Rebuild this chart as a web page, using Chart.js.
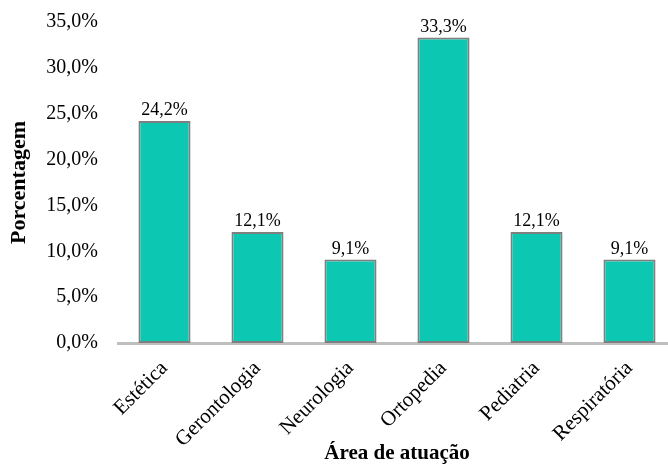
<!DOCTYPE html>
<html>
<head>
<meta charset="utf-8">
<script src="https://cdn.jsdelivr.net/npm/chart.js@4/dist/chart.umd.min.js"></script>
<style>
    html, body { margin: 0; padding: 0; background: #fff; overflow: hidden; }
    #wrap { width: 680px; height: 467px; }
</style>
</head>
<body>
<div id="wrap"><canvas id="areaChart" width="680" height="467"></canvas></div>
<script>
const categories = ['Estética', 'Gerontologia', 'Neurologia', 'Ortopedia', 'Pediatria', 'Respiratória'];
const percentages = [24.2, 12.1, 9.1, 33.3, 12.1, 9.1];
const yTicks = [0, 5, 10, 15, 20, 25, 30, 35];

const serif = "'Liberation Serif', 'Times New Roman', serif";

function fmtPct(v) {
    return v.toFixed(1).replace('.', ',') + '%';
}

// etiquetas em cima das barras
const barLabels = {
    id: 'barLabels',
    afterDatasetsDraw(chart) {
        const ctx = chart.ctx;
        const meta = chart.getDatasetMeta(0);
        ctx.save();
        ctx.font = '18px ' + serif;
        ctx.fillStyle = '#000';
        ctx.textAlign = 'center';
        ctx.textBaseline = 'alphabetic';
        meta.data.forEach((bar, i) => {
            ctx.fillText(fmtPct(percentages[i]), bar.x, bar.y - 6);
        });
        ctx.restore();
    }
};

const ctx = document.getElementById('areaChart').getContext('2d');

new Chart(ctx, {
    type: 'bar',
    data: {
        labels: categories,
        datasets: [{
            label: 'Porcentagem',
            data: percentages,
            backgroundColor: '#0cc7b1',
            borderColor: '#7f7f7f',
            borderWidth: 2,
            borderSkipped: false,
            categoryPercentage: 1,
            barPercentage: 0.56
        }]
    },
    options: {
        responsive: false,
        animation: false,
        layout: {
            padding: { top: 22, right: 4, left: 0, bottom: 0 }
        },
        plugins: {
            legend: { display: false },
            tooltip: { enabled: false },
            title: { display: false }
        },
        scales: {
            x: {
                grid: { display: false, drawTicks: false },
                border: { display: true, color: '#bfbfbf', width: 3 },
                ticks: {
                    color: '#000',
                    font: { family: serif, size: 21 },
                    minRotation: 45,
                    maxRotation: 45,
                    padding: 13
                },
                title: {
                    display: true,
                    text: 'Área de atuação',
                    color: '#000',
                    font: { family: serif, size: 21, weight: 'bold' },
                    padding: { top: 0, bottom: 1 }
                },
                afterFit: (scale) => { scale.height = 124; }
            },
            y: {
                min: 0,
                max: 35,
                grid: { display: false, drawTicks: false },
                border: { display: false },
                afterBuildTicks: (scale) => {
                    scale.ticks = yTicks.map(v => ({ value: v }));
                },
                ticks: {
                    color: '#000',
                    font: { family: serif, size: 20 },
                    padding: 20,
                    callback: (v) => fmtPct(v)
                },
                title: {
                    display: true,
                    text: 'Porcentagem',
                    color: '#000',
                    font: { family: serif, size: 22, weight: 'bold' },
                    padding: { top: 6, bottom: 0 }
                },
                afterFit: (scale) => {
                    scale.width = 118;
                    // o padding dos ticks não deve empurrar a área do gráfico
                    scale.paddingTop = 10;
                    scale.paddingBottom = 10;
                }
            }
        }
    },
    plugins: [barLabels]
});
</script>
</body>
</html>
